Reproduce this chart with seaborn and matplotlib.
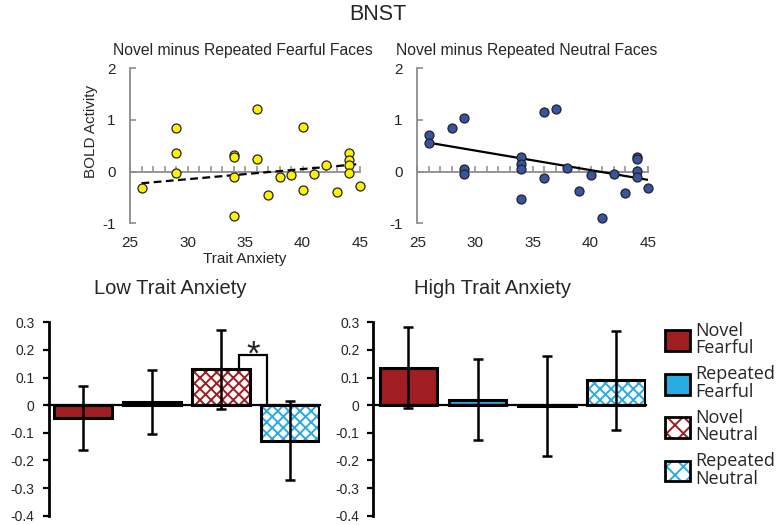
import numpy as np
import pandas as pd
import matplotlib
matplotlib.use("Agg")
import matplotlib.pyplot as plt
import seaborn as sns
from matplotlib.patches import Patch, Rectangle
from matplotlib.legend_handler import HandlerTuple

sns.set_style("white")
plt.rcParams["font.family"] = ["Liberation Sans", "DejaVu Sans"]
plt.rcParams["axes.unicode_minus"] = False
plt.rcParams["hatch.linewidth"] = 1.4

# ---------------- data ----------------
fear_anx = [26, 29, 29, 29, 34, 34, 34, 34, 36, 36, 37, 38, 39, 40, 40, 41, 42, 43, 44, 44, 44, 44, 45]
fear_bold = [-0.32, 0.85, 0.37, -0.02, 0.32, 0.29, -0.10, -0.85, 1.21, 0.25, -0.46, -0.10, -0.06,
             0.86, -0.36, -0.04, 0.12, -0.39, 0.37, 0.23, 0.13, -0.02, -0.28]
neut_anx = [26, 26, 28, 29, 29, 29, 34, 34, 34, 34, 36, 36, 37, 38, 39, 40, 41, 42, 43, 44, 44, 44, 44, 45]
neut_bold = [0.71, 0.55, 0.85, 1.03, 0.06, -0.05, 0.29, 0.14, 0.06, -0.53, 1.15, -0.12, 1.21, 0.08,
             -0.37, -0.06, -0.90, -0.04, -0.41, 0.28, 0.25, 0.01, -0.10, -0.31]

# trend lines as drawn in the figure (end points)
fear_trend_x = [26, 45]
fear_trend_y = [-0.225, 0.148]
neut_trend_x = [26, 45]
neut_trend_y = [0.56, -0.16]

conditions = ["Novel Fearful", "Repeated Fearful", "Novel Neutral", "Repeated Neutral"]
legend_labels = ["Novel\nFearful", "Repeated\nFearful", "Novel\nNeutral", "Repeated\nNeutral"]
low_means = [-0.046, 0.012, 0.130, -0.129]
low_sem = [0.115, 0.116, 0.142, 0.143]
high_means = [0.136, 0.020, -0.003, 0.090]
high_sem = [0.146, 0.146, 0.180, 0.180]

scatter_xticks = [25, 30, 35, 40, 45]
scatter_yticks = [2, 1, 0, -1]
scatter_yticklabels = ["2", "1", "0", "-1"]
bar_yticks = [0.3, 0.2, 0.1, 0, -0.1, -0.2, -0.3, -0.4]
bar_yticklabels = ["0.3", "0.2", "0.1", "0", "-0.1", "-0.2", "-0.3", "-0.4"]

RED = "#A01D22"
BLUE = "#29ABE2"
YELLOW = "#FFF200"
DBLUE = "#3953A4"
GRAY = "#8C8C8C"
cond_colors = [RED, BLUE, RED, BLUE]
cond_hatched = [False, False, True, True]
HATCH = "xxx"

W, H = 782, 525
fig = plt.figure(figsize=(W / 100, H / 100), dpi=100)


def px_axes(left, top, right, bottom):
    return fig.add_axes([left / W, 1 - bottom / H, (right - left) / W, (bottom - top) / H])


# ---------------- scatter panels ----------------
ylo, yhi = -1.05, 2.05


def scatter_panel(ax, x, y, tx, ty, color, ls):
    sns.scatterplot(x=x, y=y, ax=ax, s=42, color=color, edgecolor="#222222", linewidth=0.9,
                    clip_on=False, zorder=4)
    sns.lineplot(x=tx, y=ty, ax=ax, color="black", lw=1.6, ls=ls, zorder=3)
    ax.set_xlim(25, 45)
    ax.set_ylim(ylo, yhi)
    for s in ["top", "right", "bottom"]:
        ax.spines[s].set_visible(False)
    ax.spines["left"].set_bounds(-1, 2)
    ax.spines["left"].set_color(GRAY)
    ax.spines["left"].set_linewidth(1.3)
    ax.set_xticks(scatter_xticks)
    ax.set_xticklabels([str(v) for v in scatter_xticks])
    ax.set_yticks(scatter_yticks)
    ax.set_yticklabels(scatter_yticklabels)
    ax.tick_params(axis="x", bottom=False, length=0, pad=7.5, labelsize=11)
    ax.tick_params(axis="y", left=True, direction="in", length=4, width=1.2, color=GRAY,
                   pad=10.5, labelsize=11)
    ax.set_xlabel("")
    ax.set_ylabel("")
    sec = ax.secondary_xaxis((0 - ylo) / (yhi - ylo))
    sec.set_xticks(range(25, 46))
    sec.tick_params(direction="in", length=4, width=1.1, color=GRAY,
                    labelbottom=False, labeltop=False)
    for s in sec.spines.values():
        s.set_color(GRAY)
        s.set_linewidth(1.3)


ax1 = px_axes(130, 65.7, 360, 225.9)
ax2 = px_axes(417.3, 65.7, 648.3, 225.9)
scatter_panel(ax1, fear_anx, fear_bold, fear_trend_x, fear_trend_y, YELLOW, (0, (3.5, 2)))
scatter_panel(ax2, neut_anx, neut_bold, neut_trend_x, neut_trend_y, DBLUE, "-")
ax1.set_xlabel("Trait Anxiety", fontsize=11, labelpad=1)
ax1.set_ylabel("BOLD Activity", fontsize=11)
ax1.yaxis.set_label_coords(-0.14, 0.59)
fig.text(243 / W, 1 - 55 / H, "Novel minus Repeated Fearful Faces", fontsize=11.3,
         ha="center", va="baseline")
fig.text(527 / W, 1 - 55 / H, "Novel minus Repeated Neutral Faces", fontsize=11.3,
         ha="center", va="baseline")
fig.text(378 / W, 1 - 15 / H, "BNST", fontsize=15.5, ha="center", va="center")

# ---------------- bar panels ----------------


def bar_panel(ax, means, sems, xlim):
    df = pd.DataFrame({"cond": conditions, "mean": means})
    sns.barplot(data=df, x="cond", y="mean", hue="cond", order=conditions, hue_order=conditions,
                palette=dict(zip(conditions, cond_colors)), saturation=1, width=0.84,
                errorbar=None, legend=False, linewidth=0, ax=ax)
    bars = list(ax.patches)
    for p, col, hat in zip(bars, cond_colors, cond_hatched):
        if hat:
            p.set_facecolor("white")
            p.set_edgecolor(col)
            p.set_hatch(HATCH)
            p.set_linewidth(0)
        ax.add_patch(Rectangle(p.get_xy(), p.get_width(), p.get_height(), fill=False,
                               ec="black", lw=2.2, zorder=p.get_zorder() + 0.1))
    ax.errorbar(range(len(means)), means, yerr=sems, fmt="none", ecolor="black",
                elinewidth=1.8, capsize=3.5, capthick=1.8, zorder=6)
    ax.set_xlim(*xlim)
    ax.set_ylim(-0.4, 0.3)
    ax.spines["top"].set_visible(False)
    ax.spines["right"].set_visible(False)
    ax.spines["bottom"].set_position(("data", 0))
    ax.spines["bottom"].set_color("black")
    ax.spines["bottom"].set_linewidth(1.6)
    ax.spines["left"].set_color("black")
    ax.spines["left"].set_linewidth(2)
    ax.set_xticks([])
    ax.set_yticks(bar_yticks)
    ax.set_yticklabels(bar_yticklabels)
    ax.tick_params(axis="y", left=True, direction="out", length=4, width=1.6, color="black",
                   pad=6, labelsize=10)
    ax.set_xlabel("")
    ax.set_ylabel("")
    return bars


ax3 = px_axes(48.5, 322.3, 320.4, 515.7)
ax4 = px_axes(373.3, 322.3, 645.9, 515.7)
bar_panel(ax3, low_means, low_sem, (-0.5, 3.44))
bar_panel(ax4, high_means, high_sem, (-0.51, 3.44))

# significance bracket between Novel Neutral and Repeated Neutral (low anxiety)
bx0 = 2 + 0.265
bx1 = 3 - 0.33
ax3.plot([bx0, bx0, bx1, bx1], [low_means[2], 0.181, 0.181, 0], color="black", lw=1.6,
         zorder=7, solid_joinstyle="miter")
ax3.text((bx0 + bx1) / 2, 0.183, "*", fontsize=25, ha="center", va="center", zorder=7)

fig.text(170 / W, 1 - 289 / H, "Low Trait Anxiety", fontsize=14.5, ha="center", va="center")
fig.text(493 / W, 1 - 289 / H, "High Trait Anxiety", fontsize=14.5, ha="center", va="center")

# ---------------- legend ----------------
handles = []
for col, hat in zip(cond_colors, cond_hatched):
    if hat:
        h = (Patch(facecolor="white", edgecolor=col, hatch="xx", lw=0),
             Patch(facecolor="none", edgecolor="black", lw=2))
    else:
        h = Patch(facecolor=col, edgecolor="black", lw=2)
    handles.append(h)
leg = fig.legend(handles, legend_labels, loc="upper left", bbox_to_anchor=(656 / W, 1 - 313 / H),
                 frameon=False, prop={"family": ["Open Sans", "DejaVu Sans"], "size": 13},
                 handlelength=1.4, handleheight=1.4, handletextpad=0.3, labelspacing=0.45,
                 handler_map={tuple: HandlerTuple(ndivide=1, pad=0)}, borderpad=0)
for t in leg.get_texts():
    t.set_linespacing(0.95)

fig.savefig("out.png", dpi=100)
